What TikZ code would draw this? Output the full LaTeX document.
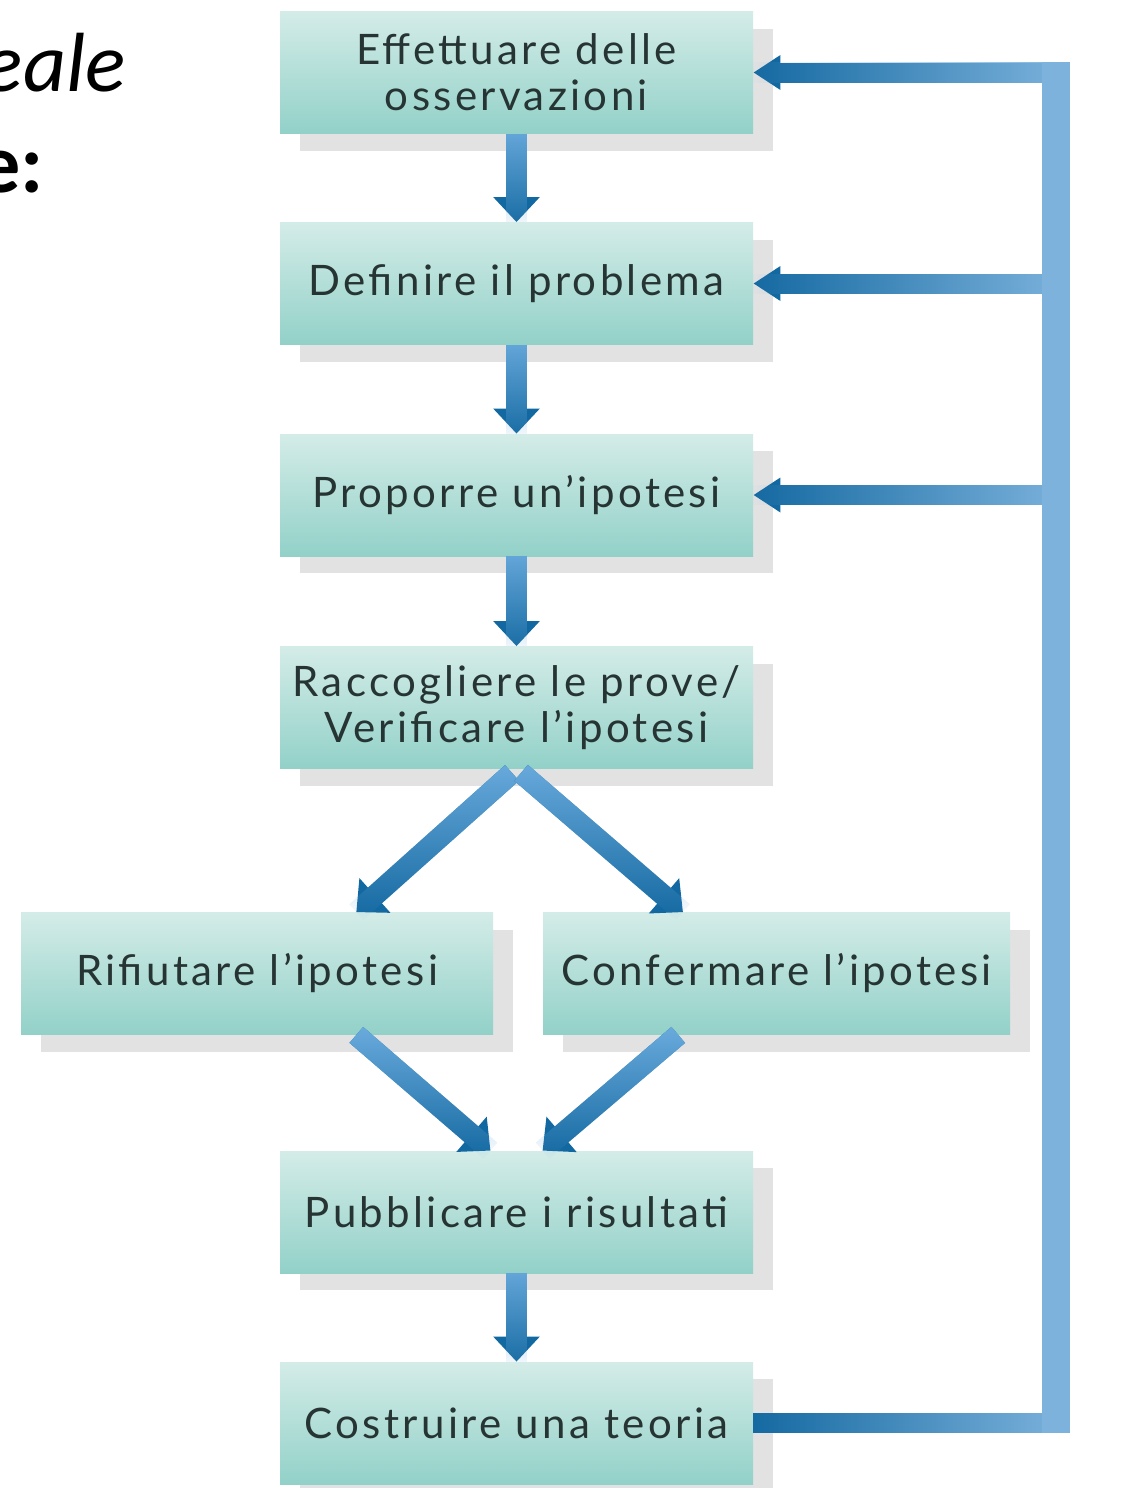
\documentclass[tikz,border=0pt]{standalone}
\usepackage{fontspec}
\setmainfont{Carlito}
\newfontfamily\stepfont[LetterSpace=8]{Lato}
\usetikzlibrary{arrows.meta,calc,fadings,shadows}
\definecolor{boxtop}{RGB}{212,236,232}
\definecolor{boxbottom}{RGB}{146,209,200}
\definecolor{boxshadow}{RGB}{226,226,226}
\definecolor{boxtext}{RGB}{38,52,52}
\definecolor{arrowdark}{RGB}{18,104,160}
\definecolor{arrowlight}{RGB}{108,172,222}
\definecolor{loopblue}{RGB}{124,178,220}
\tikzfading[name=fadedown, top color=transparent!0, bottom color=transparent!100]
\tikzfading[name=fadeleft, left color=transparent!100, right color=transparent!0]

\begin{document}
\begin{tikzpicture}[x=0.5pt, y=-0.5pt,
    stepbox/.style={minimum width=236.5pt, minimum height=61pt, inner sep=0pt, align=center,
      top color=boxtop, bottom color=boxbottom, text=boxtext,
      font=\stepfont\fontsize{21}{23}\selectfont,
      drop shadow={shadow xshift=10pt, shadow yshift=-8.5pt, fill=boxshadow, opacity=1}},
    flow/.style={line width=10.5pt, draw=arrowdark, -{Triangle[width=22.5pt, length=12.5pt]},
      postaction={draw=arrowlight, path fading=fadedown, -}},
    back/.style={line width=10pt, draw=arrowdark, -{Triangle[width=16.5pt, length=13.5pt]},
      postaction={draw=loopblue, path fading=fadeleft, -}},
    loopline/.style={line width=10pt, draw=arrowdark, postaction={draw=loopblue, path fading=fadeleft}},
    bar/.style={line width=14pt, draw=loopblue}]
  \path[use as bounding box, fill=white] (0,0) rectangle (1125,1488);

  % cut-off heading at the left edge
  \node[anchor=base east, inner sep=0pt, font=\fontsize{42}{50}\selectfont\itshape] (head1) at (126,91) {eale};
  \node[anchor=base east, inner sep=0pt, font=\fontsize{42}{50}\selectfont\bfseries] (head2) at (44,192) {e:};

  % steps
  \node[stepbox] (obs) at (516.5,72.5) {Effettuare delle\\osservazioni};
  \node[stepbox] (prob) at (516.5,283.5) {Definire il problema};
  \node[stepbox] (hyp) at (516.5,495) {Proporre un’ipotesi};
  \node[stepbox] (test) at (516.5,707.5) {Raccogliere le prove/\\Verificare l’ipotesi};
  \node[stepbox, minimum width=236pt] (rej) at (257,973.5) {Rifiutare l’ipotesi};
  \node[stepbox, minimum width=233.5pt] (conf) at (776.5,973.5) {Confermare l’ipotesi};
  \node[stepbox] (pub) at (516.5,1212) {Pubblicare i risultati};
  \node[stepbox] (theo) at (516.5,1423) {Costruire una teoria};

  % forward arrows
  \foreach \a/\b in {obs/prob, prob/hyp, hyp/test, pub/theo}
    \draw[flow] (\a) -- (\b);
  \draw[flow, shorten <=3pt] (test.south) -- ($(rej.north)!0.42!(rej.north east)$);
  \draw[flow, shorten <=3pt] (test.south) -- ($(conf.north)!0.4!(conf.north west)$);
  \draw[flow] ($(rej.south)!0.42!(rej.south east)$) -- ($(pub.north)!0.11!(pub.north west)$);
  \draw[flow] ($(conf.south)!0.42!(conf.south west)$) -- ($(pub.north)!0.11!(pub.north east)$);

  % feedback loop
  \coordinate (bartop) at (1056,62);
  \coordinate (barbot) at (1056,1433);
  \foreach \b in {obs, prob, hyp}
    \draw[back] (\b.east -| bartop) -- (\b.east);
  \draw[loopline] (theo.east) -- (theo.east -| barbot);
  \draw[bar] (bartop) -- (barbot);
\end{tikzpicture}
\end{document}
